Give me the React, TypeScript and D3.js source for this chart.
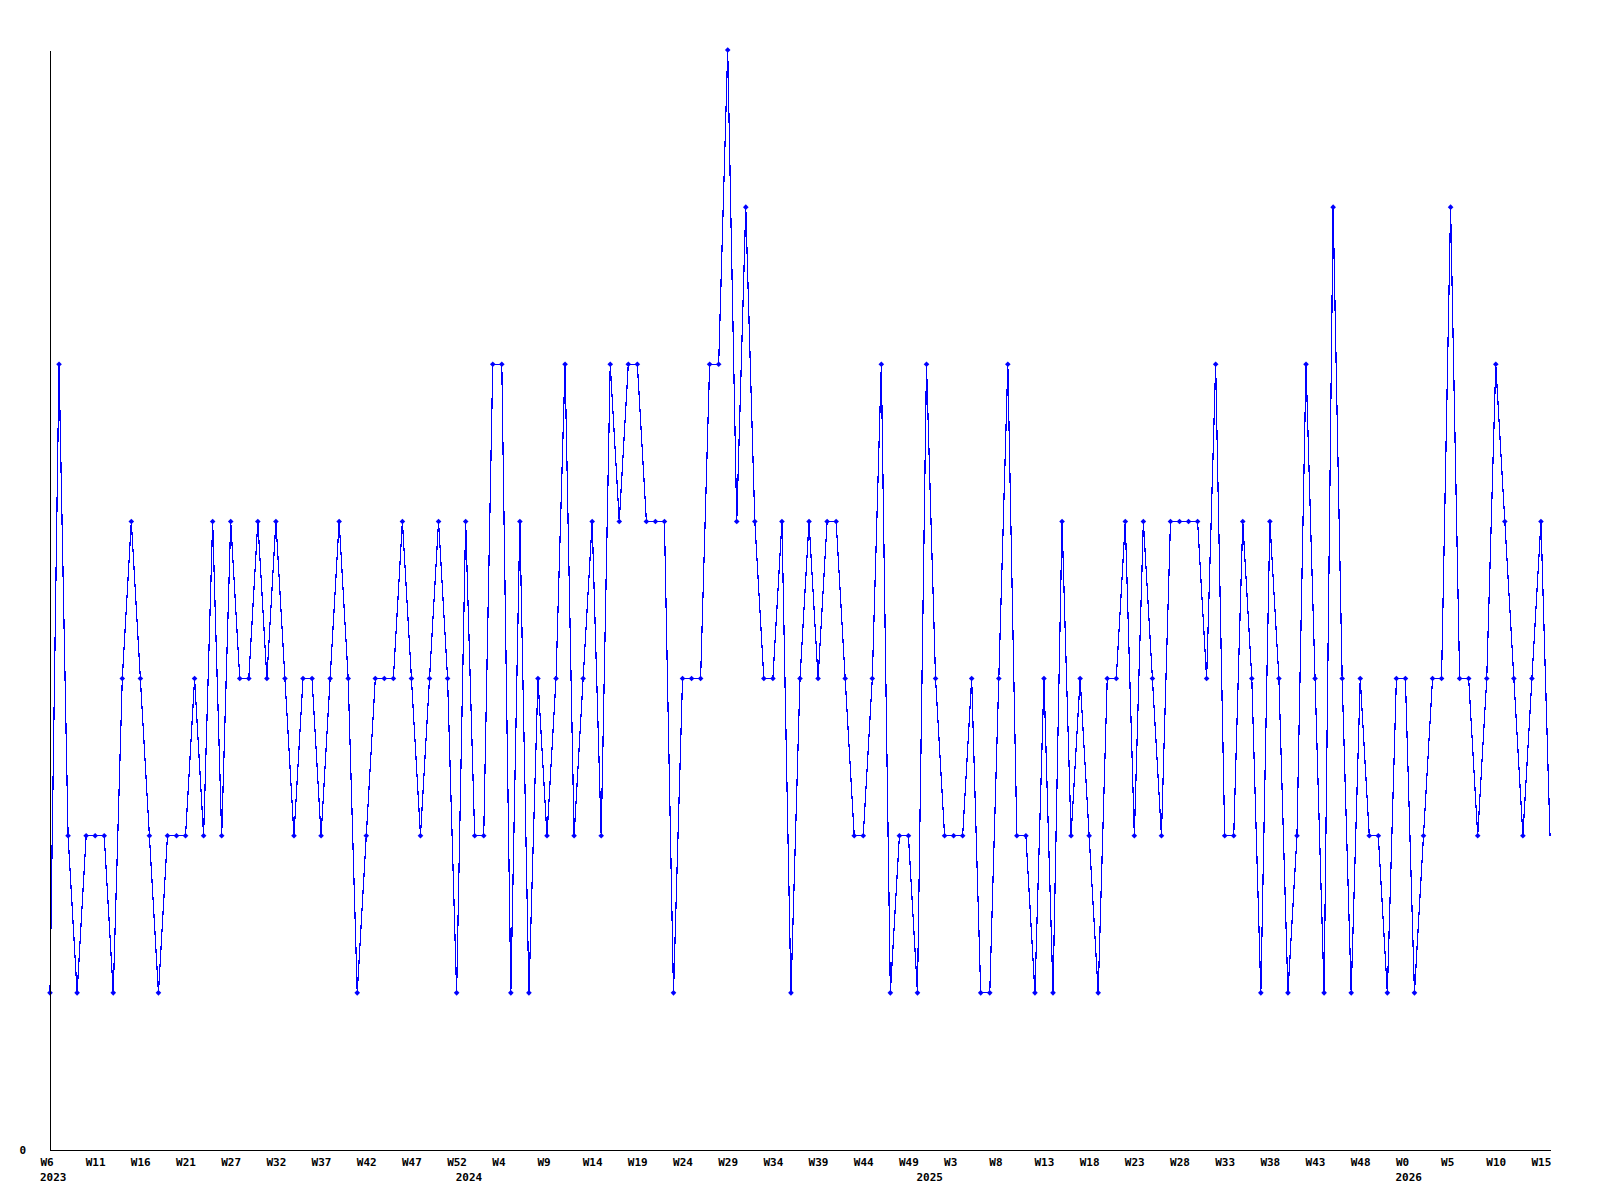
import { useEffect, useRef } from "react";
import * as d3 from "d3";

// weekly counts, 2023 W6 .. 2026 W16 (one point per week)
const values = [
  1, 5, 2, 1, 2, 2, 2, 1, 3, 4, 3, 2, 1, 2, 2, 2, 3, 2, 4, 2, 4, 3, 3, 4, 3, 4,
  3, 2, 3, 3, 2, 3, 4, 3, 1, 2, 3, 3, 3, 4, 3, 2, 3, 4, 3, 1, 4, 2, 2, 5, 5, 1, 4, 1, 3, 2,
  3, 5, 2, 3, 4, 2, 5, 4, 5, 5, 4, 4, 4, 1, 3, 3, 3, 5, 5, 7, 4, 6, 4, 3, 3, 4, 1, 3, 4, 3,
  4, 4, 3, 2, 2, 3, 5, 1, 2, 2, 1, 5, 3, 2, 2, 2, 3, 1, 1, 3, 5, 2, 2, 1, 3, 1, 4, 2, 3, 2,
  1, 3, 3, 4, 2, 4, 3, 2, 4, 4, 4, 4, 3, 5, 2, 2, 4, 3, 1, 4, 3, 1, 2, 5, 3, 1, 6, 3, 1, 3,
  2, 2, 1, 3, 3, 1, 2, 3, 3, 6, 3, 3, 2, 3, 5, 4, 3, 2, 3, 4, 2
];

// one label every 5th week
const weekLabels = [
  "W6", "W11", "W16", "W21", "W27", "W32", "W37", "W42", "W47", "W52",
  "W4", "W9", "W14", "W19", "W24", "W29", "W34", "W39", "W44", "W49",
  "W3", "W8", "W13", "W18", "W23", "W28", "W33", "W38", "W43", "W48",
  "W0", "W5", "W10", "W15"
];
const weekStep = 5;

const yearLabels = ["2023", "2024", "2025", "2026"];
const yearStarts = [0, 46, 97, 150];

function App() {
  const ref = useRef<SVGSVGElement>(null);

  useEffect(() => {
    const width = 1600;
    const height = 1200;
    const margin = { top: 50, right: 50, bottom: 50, left: 50 };
    const font = "'DejaVu Sans Mono', monospace";

    const svg = d3.select(ref.current);
    svg.selectAll("*").remove();
    svg.attr("width", width).attr("height", height);

    svg.append("rect").attr("width", width).attr("height", height).attr("fill", "#fff");

    const x = d3.scaleLinear()
      .domain([0, values.length - 1])
      .range([margin.left, width - margin.right]);

    const y = d3.scaleLinear()
      .domain([0, d3.max(values) as number])
      .range([height - margin.bottom, margin.top]);

    // line
    const line = d3.line<number>()
      .x((d, i) => x(i))
      .y(d => y(d));

    svg.append("path")
      .datum(values)
      .attr("fill", "none")
      .attr("stroke", "#0000ff")
      .attr("stroke-width", 1.2)
      .attr("shape-rendering", "crispEdges")
      .attr("d", line);

    // point markers (last week has none)
    const marker = d3.symbol().type(d3.symbolDiamond).size(14);
    svg.selectAll("path.pt")
      .data(values.slice(0, -1))
      .join("path")
      .attr("class", "pt")
      .attr("transform", (d, i) => `translate(${x(i)},${y(d)}) scale(1.4,0.8)`)
      .attr("fill", "#0000ff")
      .attr("d", marker);

    // x axis
    const tickIdx = weekLabels.map((_, i) => i * weekStep);
    const xAxis = svg.append("g")
      .attr("transform", `translate(0,${y(0)})`)
      .call(
        d3.axisBottom(x)
          .tickValues(tickIdx)
          .tickFormat((d, i) => weekLabels[i])
          .tickSize(0)
          .tickSizeOuter(0)
      );
    xAxis.select(".domain").attr("stroke", "#000").attr("shape-rendering", "crispEdges");
    xAxis.selectAll("text")
      .attr("text-anchor", "start")
      .attr("x", -10)
      .attr("y", 16)
      .attr("dy", 0)
      .attr("font-family", font)
      .attr("font-weight", "bold")
      .attr("font-size", 11)
      .attr("fill", "#000");

    // year labels under the first week of each year
    svg.append("g")
      .selectAll("text")
      .data(yearLabels)
      .join("text")
      .attr("x", (d, i) => x(yearStarts[i]) - 10)
      .attr("y", y(0) + 31)
      .attr("font-family", font)
      .attr("font-weight", "bold")
      .attr("font-size", 11)
      .text(d => d);

    // y axis
    const yAxis = svg.append("g")
      .attr("transform", `translate(${margin.left},0)`)
      .call(
        d3.axisLeft(y)
          .tickValues([0])
          .tickFormat(d3.format("d"))
          .tickSize(0)
          .tickSizeOuter(0)
          .tickPadding(24)
      );
    yAxis.select(".domain").attr("stroke", "#000").attr("shape-rendering", "crispEdges");
    yAxis.selectAll("text")
      .attr("font-family", font)
      .attr("font-weight", "bold")
      .attr("font-size", 11)
      .attr("fill", "#000");
  }, []);

  return (
    <svg
      ref={ref}
      style={{ position: "absolute", left: 0, top: 0, display: "block" }}
    />
  );
}

export default App;
